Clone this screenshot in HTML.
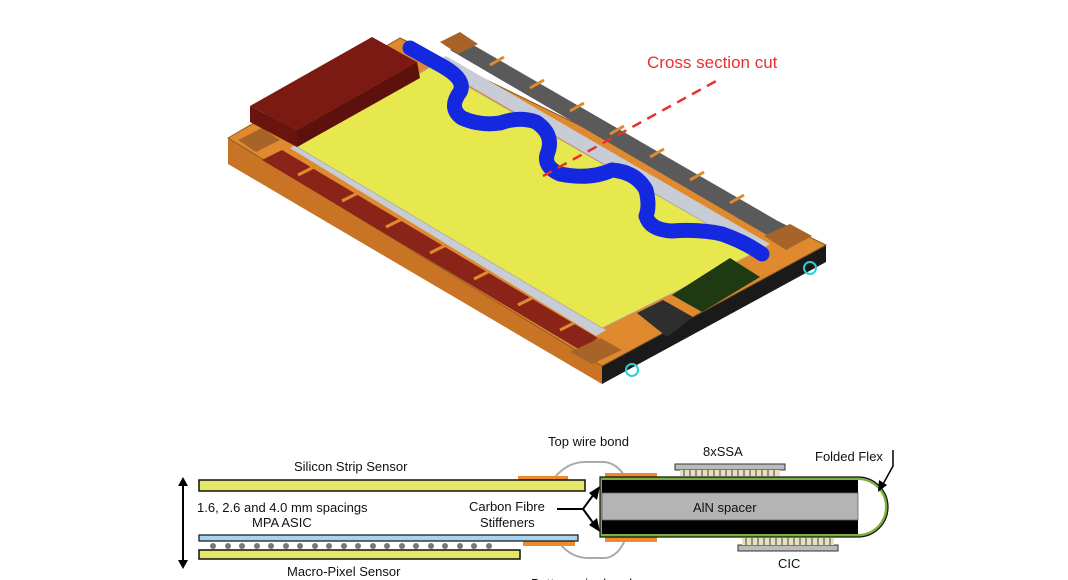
<!DOCTYPE html>
<html><head><meta charset="utf-8"><style>
html,body{margin:0;padding:0;background:#fff}
svg{display:block}
text{font-family:"Liberation Sans",Arial,sans-serif}
</style></head><body>
<svg width="1068" height="580" viewBox="0 0 1068 580" xmlns="http://www.w3.org/2000/svg">
<rect width="1068" height="580" fill="#fff"/>
<!-- 3D module -->
<polygon points="602,366 826,245 826,262 602,384" fill="#1a1a1a"/>
<polygon points="228,138 602,366 602,384 228,164" fill="#c87424"/>
<polygon points="228,138 400,38 826,245 602,366" fill="#e08a30" stroke="#8a5a20" stroke-width="1"/>
<!-- lower-left long edge: red pads and silver strip -->
<polygon points="262,160 282,150 598,338 580,350" fill="#8a2418"/>
<g stroke="#e08a30" stroke-width="3"><path d="M298,175l18,-9M342,201l18,-9M386,227l18,-9M430,253l18,-9M474,279l18,-9M518,305l18,-9M560,330l18,-9"/></g>
<polygon points="290,148 300,143 606,330 596,336" fill="#c8ccd4"/>
<!-- upper-right long edge: dark pads and silver strip -->
<polygon points="450,50 468,42 790,228 772,238" fill="#5a5a5a"/>
<g stroke="#e08a30" stroke-width="3"><path d="M490,65l14,-8M530,88l14,-8M570,111l14,-8M610,134l14,-8M650,157l14,-8M690,180l14,-8M730,203l14,-8"/></g>
<polygon points="432,64 446,56 770,244 756,252" fill="#c8ccd4"/>
<!-- yellow sensor -->
<polygon points="297,147 432,66 756,252 602,328" fill="#e6e84e" stroke="#aaa" stroke-width="0.8"/>
<!-- electronics bottom right -->
<polygon points="672,295 730,258 760,277 702,312" fill="#1e3a12"/>
<polygon points="637,313 663,300 693,317 667,337" fill="#2e2e2e"/>
<polygon points="570,352 600,338 622,350 592,364" fill="#a86428"/>
<polygon points="764,236 790,224 812,236 786,250" fill="#a86428"/>
<polygon points="238,140 262,128 280,140 256,152" fill="#a86428"/>
<polygon points="440,42 460,32 478,44 458,54" fill="#a86428"/>
<!-- brown block -->
<polygon points="250,106 372,37 417,62 297,130" fill="#7a1a12"/>
<polygon points="250,106 297,130 297,147 250,122" fill="#6a140e"/>
<polygon points="297,130 417,62 420,78 297,147" fill="#5c110c"/>
<!-- blue flex -->
<path d="M410,48 L444,67 Q466,80 460,92 Q448,108 462,118 Q480,126 500,123 Q520,116 536,122 Q554,134 548,152 Q542,166 560,174 Q590,180 612,170 Q636,172 646,190 Q650,206 646,216 Q650,230 672,231 Q700,229 722,234 Q745,242 762,254" fill="none" stroke="#1428e0" stroke-width="15" stroke-linejoin="round" stroke-linecap="round"/>
<!-- cross section -->
<line x1="543" y1="176" x2="718" y2="80" stroke="#e83030" stroke-width="2.5" stroke-dasharray="10,7"/>
<text x="647" y="68" font-size="17" fill="#e83030">Cross section cut</text>
<circle cx="632" cy="370" r="6" fill="none" stroke="#2ad0d0" stroke-width="2"/>
<circle cx="810" cy="268" r="6" fill="none" stroke="#2ad0d0" stroke-width="2"/>

<!-- cross section diagram -->
<g font-size="13" fill="#111">
<text x="548" y="446">Top wire bond</text>
<text x="703" y="456">8xSSA</text>
<text x="815" y="461">Folded Flex</text>
<text x="294" y="471">Silicon Strip Sensor</text>
<text x="197" y="512">1.6, 2.6 and 4.0 mm spacings</text>
<text x="252" y="527">MPA ASIC</text>
<text x="469" y="511">Carbon Fibre</text>
<text x="480" y="527">Stiffeners</text>
<text x="287" y="576">Macro-Pixel Sensor</text>
<text x="778" y="568">CIC</text>
<text x="531" y="588">Bottom wire bond</text>
</g>
<!-- vertical arrow -->
<line x1="183" y1="484" x2="183" y2="562" stroke="#000" stroke-width="2"/>
<polygon points="178,486 183,477 188,486" fill="#000"/>
<polygon points="178,560 183,569 188,560" fill="#000"/>
<!-- wire bonds -->
<path d="M555,477 Q568,462 585,462 L605,462 Q618,464 625,477" fill="none" stroke="#aaa" stroke-width="2"/>
<path d="M560,544 Q572,558 588,558 L606,558 Q618,556 625,540" fill="none" stroke="#aaa" stroke-width="2"/>
<!-- orange pads -->
<rect x="518" y="476" width="50" height="5" fill="#ef8a2a"/>
<rect x="523" y="541" width="52" height="5" fill="#ef8a2a"/>
<rect x="605" y="473" width="52" height="6" fill="#ef8a2a"/>
<rect x="605" y="536" width="52" height="6" fill="#ef8a2a"/>
<!-- sensors -->
<rect x="199" y="480" width="386" height="11" fill="#e4e866" stroke="#111" stroke-width="1.5"/>
<rect x="199" y="535" width="379" height="6" fill="#a8d4f0" stroke="#111" stroke-width="1.2"/>
<g fill="#777">
<circle cx="213" cy="546" r="3"/><circle cx="228" cy="546" r="3"/><circle cx="242" cy="546" r="3"/><circle cx="257" cy="546" r="3"/><circle cx="271" cy="546" r="3"/><circle cx="286" cy="546" r="3"/><circle cx="300" cy="546" r="3"/><circle cx="315" cy="546" r="3"/><circle cx="329" cy="546" r="3"/><circle cx="344" cy="546" r="3"/><circle cx="358" cy="546" r="3"/><circle cx="373" cy="546" r="3"/><circle cx="387" cy="546" r="3"/><circle cx="402" cy="546" r="3"/><circle cx="416" cy="546" r="3"/><circle cx="431" cy="546" r="3"/><circle cx="445" cy="546" r="3"/><circle cx="460" cy="546" r="3"/><circle cx="474" cy="546" r="3"/><circle cx="489" cy="546" r="3"/>
</g>
<rect x="199" y="550" width="321" height="9" fill="#e4e866" stroke="#111" stroke-width="1.5"/>
<!-- carbon fibre arrows -->
<polyline points="557,509 583,509" stroke="#000" stroke-width="2" fill="none"/>
<line x1="583" y1="509" x2="594" y2="494" stroke="#000" stroke-width="2"/>
<line x1="583" y1="509" x2="594" y2="524" stroke="#000" stroke-width="2"/>
<polygon points="600,486 597,500 589,493" fill="#000"/>
<polygon points="600,532 589,525 597,518" fill="#000"/>
<!-- SSA / CIC -->
<rect x="675" y="464" width="110" height="6" fill="#bbb" stroke="#333" stroke-width="1"/>
<rect x="680" y="470" width="100" height="6" fill="#e8e0b8"/>
<g stroke="#777" stroke-width="1.5"><path d="M684,470v6M690,470v6M696,470v6M702,470v6M708,470v6M714,470v6M720,470v6M726,470v6M732,470v6M738,470v6M744,470v6M750,470v6M756,470v6M762,470v6M768,470v6M774,470v6"/></g>
<rect x="738" y="545" width="100" height="6" fill="#bbb" stroke="#333" stroke-width="1"/>
<rect x="742" y="538" width="92" height="7" fill="#e8e0b8"/>
<g stroke="#777" stroke-width="1.5"><path d="M746,538v7M752,538v7M758,538v7M764,538v7M770,538v7M776,538v7M782,538v7M788,538v7M794,538v7M800,538v7M806,538v7M812,538v7M818,538v7M824,538v7M830,538v7"/></g>
<!-- stack -->
<path d="M600,477 L858,477 A30,30 0 0 1 858,537 L600,537 Z" fill="#7ab040" stroke="#111" stroke-width="1.2"/>
<path d="M602,480 L858,480 A27,27 0 0 1 858,534 L602,534 Z" fill="#fff"/>
<rect x="602" y="480" width="256" height="54" fill="#000"/>
<rect x="602" y="493" width="256" height="27" fill="#b4b4b4" stroke="#666" stroke-width="0.8"/>
<text x="693" y="512" font-size="13" fill="#111">AlN spacer</text>
<!-- folded flex arrow -->
<polyline points="893,450 893,466 882,486" fill="none" stroke="#000" stroke-width="1.5"/>
<polygon points="878,492 879,480 887,485" fill="#000"/>
</svg>
</body></html>
